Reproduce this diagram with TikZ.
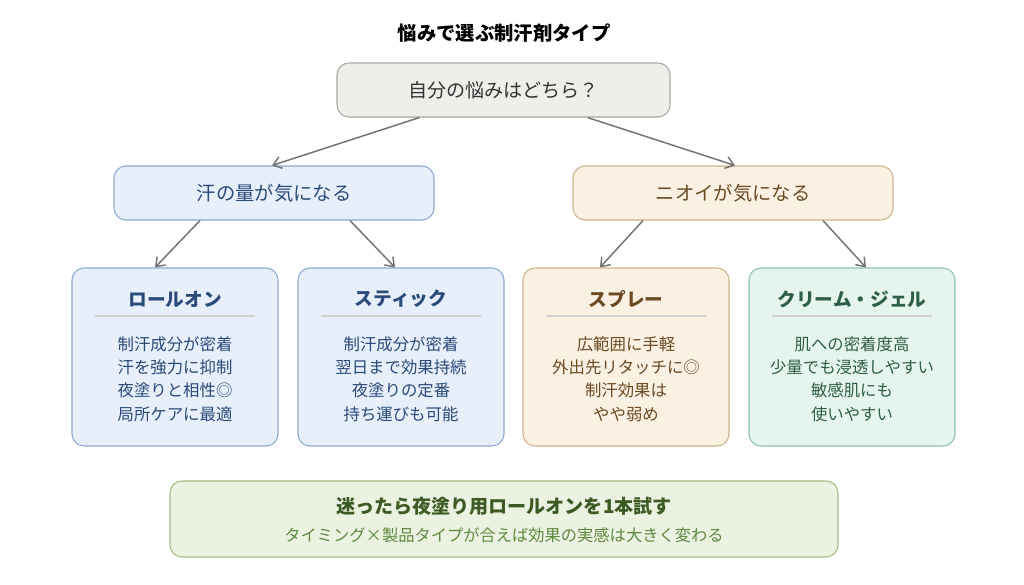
\documentclass[tikz,border=0pt]{standalone}
\usepackage{fontspec}
\setmainfont{Noto Sans CJK JP}
\usetikzlibrary{calc,arrows.meta}
\definecolor{bF}{HTML}{E7EFFA}\definecolor{bD}{HTML}{8EA8D2}\definecolor{bT}{HTML}{2A4A7A}
\definecolor{oF}{HTML}{FAF1E3}\definecolor{oD}{HTML}{CDB38C}\definecolor{oT}{HTML}{6B4A22}
\definecolor{mF}{HTML}{E6F4EE}\definecolor{mD}{HTML}{8FC1A8}\definecolor{mT}{HTML}{2E5E48}
\definecolor{gF}{HTML}{EBF2E1}\definecolor{gD}{HTML}{A3BD84}\definecolor{gT}{HTML}{3D5A24}\definecolor{gS}{HTML}{5E8A3F}
\definecolor{rF}{HTML}{EFEEEA}\definecolor{rD}{HTML}{A9A8A3}
\begin{document}
\begin{tikzpicture}[x=0.75pt,y=-0.75pt,
 box/.style={draw,rounded corners=9pt,line width=0.8pt,minimum height=#1*0.75pt,inner sep=0pt},
 arr/.style={draw=black!55,line width=1.1pt,-{Straight Barb[length=6pt,width=9pt]}}]
\useasboundingbox (0,0) rectangle (1024,585);
\fill[white] (0,0) rectangle (1024,585);
\node[font=\bfseries\fontsize{14.5}{16}\selectfont] (title) at (504,33) {悩みで選ぶ制汗剤タイプ};
\node[box=54,fill=rF,draw=rD,minimum width=333*0.75pt,font=\fontsize{14.3}{16}\selectfont,text=black!80] (root) at (503.5,90) {自分の悩みはどちら？};
\node[box=54,fill=bF,draw=bD,minimum width=320*0.75pt,font=\fontsize{14.5}{16}\selectfont,text=bT] (L) at (274,193) {汗の量が気になる};
\node[box=54,fill=oF,draw=oD,minimum width=320*0.75pt,font=\fontsize{14.5}{16}\selectfont,text=oT] (R) at (733,193) {ニオイが気になる};
\foreach \n/\x/\f/\d/\t/\h/\a/\b/\c/\e in {
 l1/175/bF/bD/bT/ロールオン/制汗成分が密着/汗を強力に抑制/夜塗りと相性◎/局所ケアに最適,
 l2/401/bF/bD/bT/スティック/制汗成分が密着/翌日まで効果持続/夜塗りの定番/持ち運びも可能,
 l3/626/oF/oD/oT/スプレー/広範囲に手軽/外出先リタッチに◎/制汗効果は/やや弱め,
 l4/852/mF/mD/mT/クリーム・ジェル/肌への密着度高/少量でも浸透しやすい/敏感肌にも/使いやすい}{
 \node[box=178,fill=\f,draw=\d,minimum width=206*0.75pt] (\n) at (\x,357) {};
 \node[text=\t,font=\bfseries\fontsize{14}{16}\selectfont] (\n h) at (\x,299) {\h};
 \draw[black!18,line width=0.8pt] (\x-80,316) -- (\x+80,316);
 \node[text=\t,align=center,font=\fontsize{12.3}{17.5}\selectfont] (\n t) at (\x,379) {\a\\\b\\\c\\\e};
}
\node[box=76,fill=gF,draw=gD,minimum width=668*0.75pt] (bot) at (504,519) {};
\node[text=gT,font=\bfseries\fontsize{14.3}{16}\selectfont] (bot1) at (504,506) {迷ったら夜塗り用ロールオンを1本試す};
\node[text=gS,font=\fontsize{12.2}{14}\selectfont] (bot2) at (504,535) {タイミング×製品タイプが合えば効果の実感は大きく変わる};
\draw[arr] ($(root.south)+(-84,0)$) -- ($(L.north)+(-2,0)$);
\draw[arr] ($(root.south)+(84,0)$) -- ($(R.north)+(2,0)$);
\draw[arr] ($(L.south)+(-74,0)$) -- ($(l1.north)+(-20,0)$);
\draw[arr] ($(L.south)+(76,0)$) -- ($(l2.north)+(-6,0)$);
\draw[arr] ($(R.south)+(-90,0)$) -- ($(l3.north)+(-26,0)$);
\draw[arr] ($(R.south)+(90,0)$) -- ($(l4.north)+(14,0)$);
\end{tikzpicture}
\end{document}
